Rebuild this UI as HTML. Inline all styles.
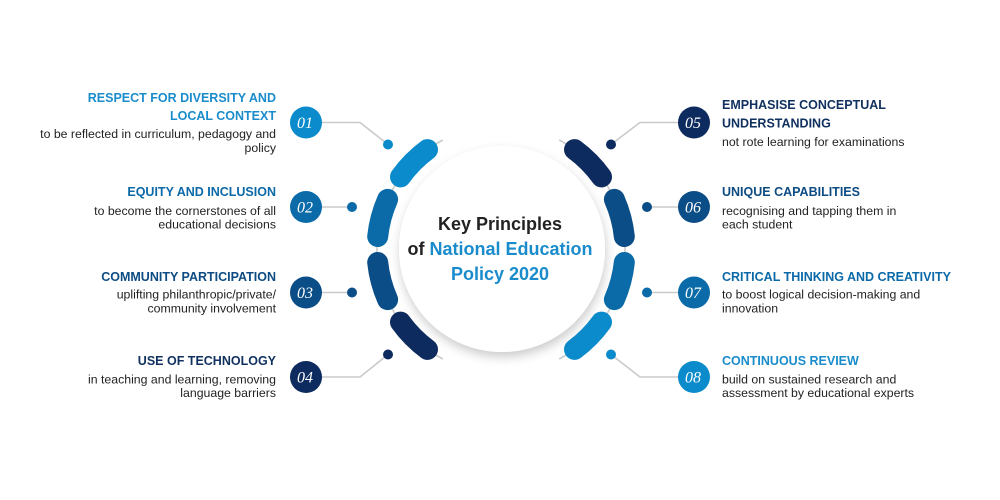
<!DOCTYPE html>
<html><head><meta charset="utf-8"><style>
html,body{margin:0;padding:0;background:#fff;}
svg{display:block;}
.t{font-family:"Liberation Sans",sans-serif;font-weight:bold;font-size:12.5px;}
.d{font-family:"Liberation Sans",sans-serif;font-size:12.3px;fill:#222;}
.n{font-family:"Liberation Serif",serif;font-style:italic;font-size:16px;fill:#fff;}
.c{font-family:"Liberation Sans",sans-serif;font-weight:bold;font-size:18px;}
</style></head><body>
<svg width="1000" height="500" viewBox="0 0 1000 500" xmlns="http://www.w3.org/2000/svg">
<defs>
<filter id="sh" x="-30%" y="-30%" width="160%" height="160%">
<feDropShadow dx="1" dy="5" stdDeviation="5" flood-color="#000" flood-opacity="0.2"/>
</filter>
</defs>
<rect width="1000" height="500" fill="#fff"/>

<!-- gray ring arcs -->
<g fill="none" stroke="#cacaca" stroke-width="1.6">
<path d="M442.8 140 A124 124 0 0 0 442.8 359"/>
<path d="M559.2 140 A124 124 0 0 1 559.2 359"/>
<!-- connectors -->
<polyline points="321,122.5 360,122.5 388,144.5"/>
<polyline points="321,207 352,207"/>
<polyline points="321,292.5 352,292.5"/>
<polyline points="321,377 360,377 388,354.5"/>
<polyline points="678,122.5 640,122.5 611,144.5"/>
<polyline points="678,207 647,207"/>
<polyline points="678,292.5 647,292.5"/>
<polyline points="678,377 640,377 611,354.5"/>
</g>

<!-- segments -->
<g fill="none" stroke-width="21" stroke-linecap="round">
<path d="M427.5 149.6 A124 124 0 0 0 400.5 176.9" stroke="#0b8bcb"/>
<path d="M387.6 199.4 A124 124 0 0 0 377.7 236.5" stroke="#0a6ba8"/>
<path d="M377.7 262.5 A124 124 0 0 0 387.6 299.6" stroke="#0b4d86"/>
<path d="M400.5 322.1 A124 124 0 0 0 427.5 349.4" stroke="#0d2b5e"/>
<path d="M574.5 149.6 A124 124 0 0 1 601.5 176.9" stroke="#0d2b5e"/>
<path d="M614.4 199.4 A124 124 0 0 1 624.3 236.5" stroke="#0b4d86"/>
<path d="M624.3 262.5 A124 124 0 0 1 614.4 299.6" stroke="#0a6ba8"/>
<path d="M601.5 322.1 A124 124 0 0 1 574.5 349.4" stroke="#0b8bcb"/>
</g>

<!-- center circle -->
<circle cx="502" cy="249" r="103" fill="#fff" filter="url(#sh)"/>
<text class="c" x="500" y="230" text-anchor="middle" fill="#222">Key Principles</text>
<text class="c" x="500" y="255" text-anchor="middle" fill="#222">of <tspan fill="#1a8ccc">National Education</tspan></text>
<text class="c" x="500" y="280" text-anchor="middle" fill="#1a8ccc">Policy 2020</text>

<!-- dots -->
<circle cx="388" cy="144.5" r="5" fill="#0b8bcb"/>
<circle cx="352" cy="207" r="5" fill="#0a6ba8"/>
<circle cx="352" cy="292.5" r="5" fill="#0b4d86"/>
<circle cx="388" cy="354.5" r="5" fill="#0d2b5e"/>
<circle cx="611" cy="144.5" r="5" fill="#0d2b5e"/>
<circle cx="647" cy="207" r="5" fill="#0b4d86"/>
<circle cx="647" cy="292.5" r="5" fill="#0a6ba8"/>
<circle cx="611" cy="354.5" r="5" fill="#0b8bcb"/>

<!-- badges -->
<circle cx="306" cy="122.5" r="16" fill="#0b8bcb"/>
<circle cx="306" cy="207" r="16" fill="#0a6ba8"/>
<circle cx="306" cy="292.5" r="16" fill="#0b4d86"/>
<circle cx="306" cy="377" r="16" fill="#0d2b5e"/>
<circle cx="694" cy="122.5" r="16" fill="#0d2b5e"/>
<circle cx="694" cy="207" r="16" fill="#0b4d86"/>
<circle cx="694" cy="292.5" r="16" fill="#0a6ba8"/>
<circle cx="694" cy="377" r="16" fill="#0b8bcb"/>
<g text-anchor="middle">
<text class="n" x="305" y="128">01</text>
<text class="n" x="305" y="212.5">02</text>
<text class="n" x="305" y="298">03</text>
<text class="n" x="305" y="382.5">04</text>
<text class="n" x="693" y="128">05</text>
<text class="n" x="693" y="212.5">06</text>
<text class="n" x="693" y="298">07</text>
<text class="n" x="693" y="382.5">08</text>
</g>

<!-- left texts -->
<g text-anchor="end">
<text class="t" x="276" y="102" fill="#1a8ccc">RESPECT FOR DIVERSITY AND</text>
<text class="t" x="276" y="120" fill="#1a8ccc">LOCAL CONTEXT</text>
<text class="d" x="276" y="138">to be reflected in curriculum, pedagogy and</text>
<text class="d" x="276" y="152">policy</text>

<text class="t" x="276" y="196" fill="#0b69a8">EQUITY AND INCLUSION</text>
<text class="d" x="276" y="215">to become the cornerstones of all</text>
<text class="d" x="276" y="228.5">educational decisions</text>

<text class="t" x="276" y="281" fill="#0d4b83">COMMUNITY PARTICIPATION</text>
<text class="d" x="276" y="298.5">uplifting philanthropic/private/</text>
<text class="d" x="276" y="312.5">community involvement</text>

<text class="t" x="276" y="365" fill="#10305f">USE OF TECHNOLOGY</text>
<text class="d" x="276" y="383.5">in teaching and learning, removing</text>
<text class="d" x="276" y="397">language barriers</text>
</g>

<!-- right texts -->
<g text-anchor="start">
<text class="t" x="722" y="109" fill="#10305f">EMPHASISE CONCEPTUAL</text>
<text class="t" x="722" y="127.5" fill="#10305f">UNDERSTANDING</text>
<text class="d" x="722" y="146">not rote learning for examinations</text>

<text class="t" x="722" y="196" fill="#0d4b83">UNIQUE CAPABILITIES</text>
<text class="d" x="722" y="215">recognising and tapping them in</text>
<text class="d" x="722" y="228.5">each student</text>

<text class="t" x="722" y="281" fill="#0b69a8">CRITICAL THINKING AND CREATIVITY</text>
<text class="d" x="722" y="298.5">to boost logical decision-making and</text>
<text class="d" x="722" y="312.5">innovation</text>

<text class="t" x="722" y="365" fill="#1a8ccc">CONTINUOUS REVIEW</text>
<text class="d" x="722" y="383.5">build on sustained research and</text>
<text class="d" x="722" y="397">assessment by educational experts</text>
</g>
</svg>
</body></html>
